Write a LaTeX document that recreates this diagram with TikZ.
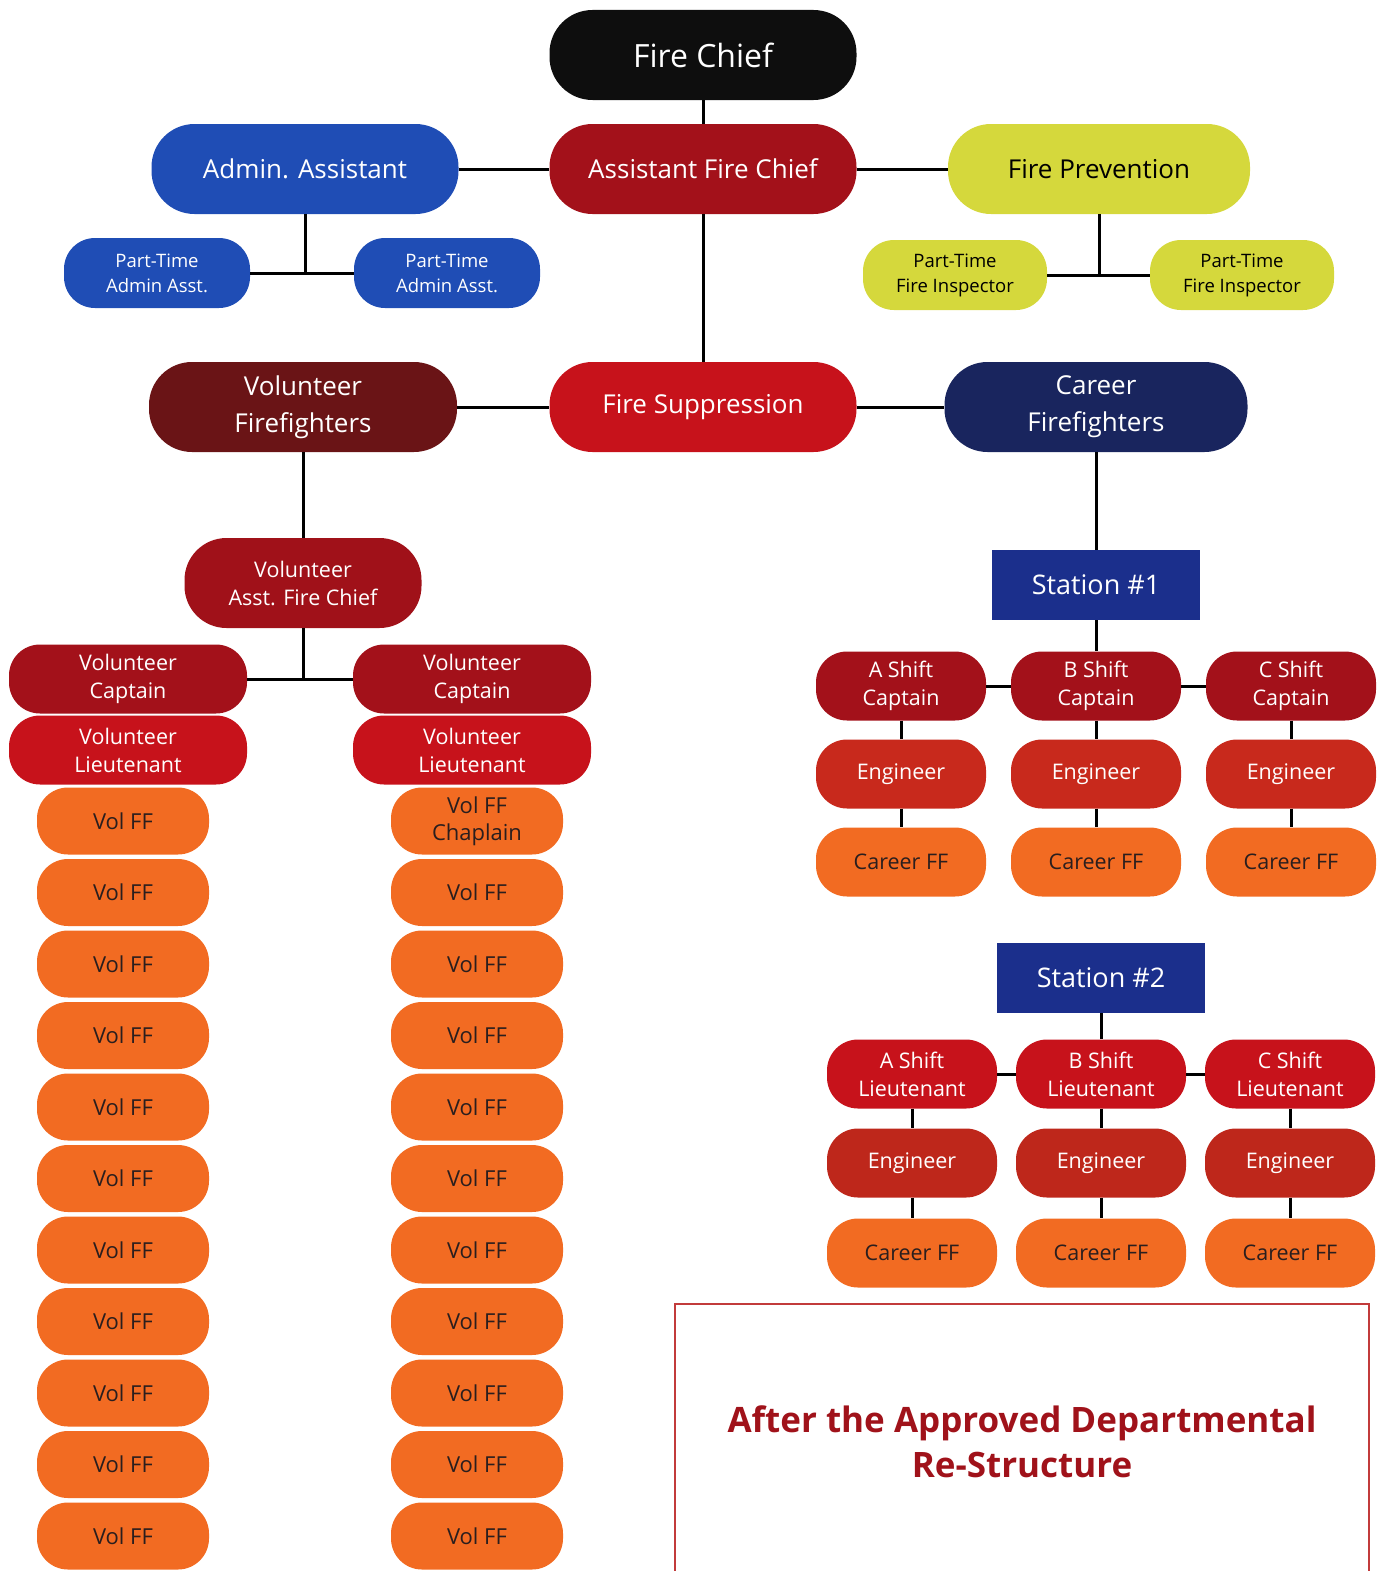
\documentclass[tikz,border=0pt]{standalone}
\usepackage{fontspec}
\setmainfont{Open Sans}

\definecolor{chiefblack}{HTML}{0E0E0E}
\definecolor{darkred}{HTML}{A3111A}
\definecolor{firered}{HTML}{C7121B}
\definecolor{adminblue}{HTML}{1F4DB5}
\definecolor{prevyellow}{HTML}{D5D83C}
\definecolor{volmaroon}{HTML}{6A1416}
\definecolor{careernavy}{HTML}{19255E}
\definecolor{stationblue}{HTML}{1B2F8C}
\definecolor{engred}{HTML}{C8291C}
\definecolor{fforange}{HTML}{F26B22}
\definecolor{inkdark}{HTML}{2A1E1E}
\definecolor{noteborder}{HTML}{C23B3B}
\definecolor{notetext}{HTML}{A0121A}

\tikzset{
  unit/.style={text=white,align=center,inner sep=0pt,rounded corners=31pt,
    minimum width=170pt,minimum height=69pt,font=\fontsize{21.5}{28}\selectfont},
  big/.style={unit,rounded corners=43pt,minimum width=307pt,minimum height=90pt,
    font=\fontsize{26}{37}\selectfont},
  parttime/.style={unit,minimum width=186pt,minimum height=70pt,
    font=\fontsize{18.5}{25}\selectfont},
  volrank/.style={unit,minimum width=238pt,minimum height=69pt},
  volff/.style={unit,fill=fforange,text=inkdark,minimum width=172pt,minimum height=67pt,
    font=\fontsize{22}{27}\selectfont},
  stationbox/.style={unit,rounded corners=0pt,fill=stationblue,minimum width=208pt,
    minimum height=70pt,font=\fontsize{27}{32}\selectfont},
  link/.style={line width=3pt,black}
}

\begin{document}
\begin{tikzpicture}[x=1pt,y=-1pt]
\useasboundingbox (0,0) rectangle (1384,1571);

% top of the chart
\node[big,fill=chiefblack,font=\fontsize{32}{38}\selectfont] (chief) at (703,55) {Fire Chief};
\node[big,fill=darkred] (afc) at (703,169) {Assistant Fire Chief};
\node[big,fill=adminblue] (admin) at (305,169) {Admin. Assistant};
\node[big,fill=prevyellow,text=black,minimum width=302pt] (prev) at (1099,169) {Fire Prevention};

\node[parttime,fill=adminblue] (pta1) at (157,273) {Part-Time\\Admin Asst.};
\node[parttime,fill=adminblue] (pta2) at (447,273) {Part-Time\\Admin Asst.};
\node[parttime,fill=prevyellow,text=black,minimum width=184pt] (pti1) at (955,275) {Part-Time\\Fire Inspector};
\node[parttime,fill=prevyellow,text=black,minimum width=184pt] (pti2) at (1242,275) {Part-Time\\Fire Inspector};

\draw[link] (chief) -- (afc);
\draw[link] (admin) -- (afc);
\draw[link] (afc) -- (prev);
\draw[link] (pta1) -- (pta2);
\draw[link] (admin) -- (admin |- pta1);
\draw[link] (pti1) -- (pti2);
\draw[link] (prev) -- (prev |- pti1);

% suppression level
\node[big,fill=firered] (supp) at (703,407) {Fire Suppression};
\node[big,fill=volmaroon,minimum width=308pt] (volff) at (303,407) {Volunteer\\Firefighters};
\node[big,fill=careernavy,minimum width=303pt] (carff) at (1096,407) {Career\\Firefighters};

\draw[link] (afc) -- (supp);
\draw[link] (volff) -- (supp);
\draw[link] (supp) -- (carff);

% volunteer side
\node[unit,fill=darkred!98!black,minimum width=237pt,minimum height=90pt,rounded corners=42pt]
  (vafc) at (303,583) {Volunteer\\Asst. Fire Chief};
\node[volrank,fill=darkred] (vcap1) at (128,679) {Volunteer\\Captain};
\node[volrank,fill=darkred] (vcap2) at (472,679) {Volunteer\\Captain};
\node[volrank,fill=firered] (vlt1) at (128,750) {Volunteer\\Lieutenant};
\node[volrank,fill=firered] (vlt2) at (472,750) {Volunteer\\Lieutenant};

\draw[link] (volff) -- (vafc);
\draw[link] (vafc) -- (vafc |- vcap1);
\draw[link] (vcap1) -- (vcap2);

\foreach \i in {0,...,10}
  \node[volff] (vl\i) at (123,{821+71.5*\i}) {Vol FF};
\node[volff] (vr0) at (477,821) {Vol FF\\Chaplain};
\foreach \i in {1,...,10}
  \node[volff] (vr\i) at (477,{821+71.5*\i}) {Vol FF};

% career side, station 1
\node[stationbox] (st1) at (1096,585) {Station \#1};
\draw[link] (carff) -- (st1);

\foreach \x/\r in {901/A,1096/B,1291/C} {
  \node[unit,fill=darkred] (cap1\r) at (\x,686) {\r{} Shift\\Captain};
  \node[unit,fill=engred] (eng1\r) at (\x,774) {Engineer};
  \node[unit,fill=fforange,text=inkdark] (ff1\r) at (\x,862) {Career FF};
  \draw[link] (cap1\r) -- (eng1\r) -- (ff1\r);
}
\draw[link] (cap1A) -- (cap1B) -- (cap1C);
\draw[link] (st1) -- (cap1B);

% station 2
\node[stationbox] (st2) at (1101,978) {Station \#2};

\foreach \x/\r in {912/A,1101/B,1290/C} {
  \node[unit,fill=firered] (lt2\r) at (\x,1074) {\r{} Shift\\Lieutenant};
  \node[unit,fill=engred!95!black] (eng2\r) at (\x,1163) {Engineer};
  \node[unit,fill=fforange,text=inkdark] (ff2\r) at (\x,1253) {Career FF};
  \draw[link] (lt2\r) -- (eng2\r) -- (ff2\r);
}
\draw[link] (lt2A) -- (lt2B) -- (lt2C);
\draw[link] (st2) -- (lt2B);

% caption box
\node[draw=noteborder,line width=1.3pt,minimum width=694pt,minimum height=276pt,align=center,
  text=notetext,font=\bfseries\fontsize{35}{45}\selectfont] (note) at (1022,1442)
  {After the Approved Departmental\\Re-Structure};

\end{tikzpicture}
\end{document}
